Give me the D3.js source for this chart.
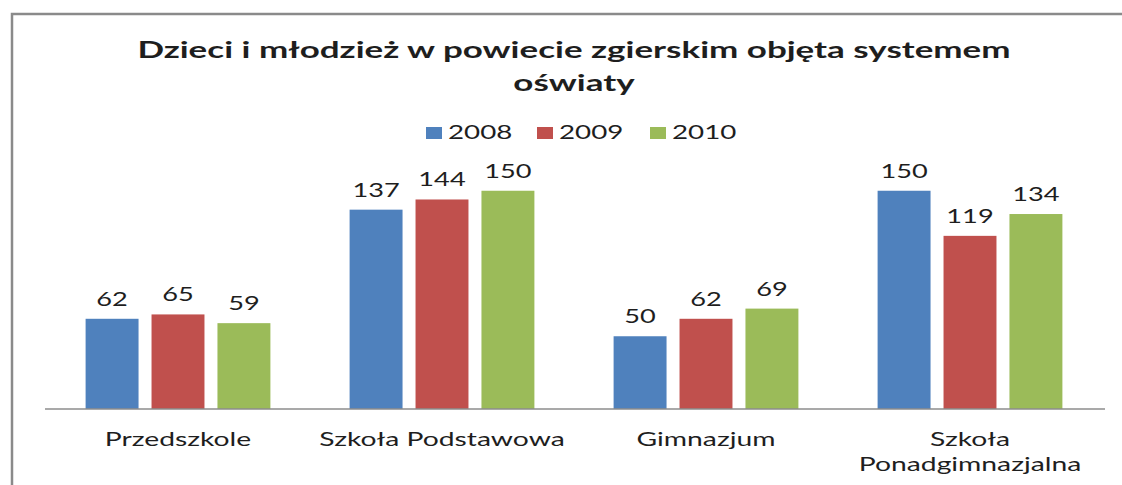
<!DOCTYPE html>
<meta charset="utf-8">
<script src="https://d3js.org/d3.v7.min.js"></script>
<style>
  body { margin: 0; background: #fff; }
  text { font-family: Lato, "Open Sans", sans-serif; fill: #1e1e1e; }
</style>
<div id="chart"></div>
<script>

// data
var categories = ["Przedszkole", "Szkoła Podstawowa", "Gimnazjum", "Szkoła\nPonadgimnazjalna"];
var years = ["2008", "2009", "2010"];
var values2008 = [62, 137, 50, 150];
var values2009 = [65, 144, 62, 119];
var values2010 = [59, 150, 69, 134];
var colors = ["#4F81BD", "#C0504D", "#9BBB59"];

var seriesValues = [values2008, values2009, values2010];

var width = 1122, height = 485;

var svg = d3.select("#chart")
  .append("svg")
    .attr("width", width)
    .attr("height", height);

// chart frame (only top and left edges are visible)
svg.append("path")
  .attr("d", "M12,485V14H1122")
  .attr("fill", "none")
  .attr("stroke", "#8a8a8a")
  .attr("stroke-width", 2.5);

// helper: horizontally stretched text (the picture is stretched sideways)
function label(x, y, str, size, sx, weight) {
  return svg.append("text")
    .attr("transform", "translate(" + x + "," + y + ") scale(" + sx + ",1)")
    .attr("text-anchor", "middle")
    .style("font-size", size + "px")
    .style("font-weight", weight || "normal")
    .text(str);
}

// title
label(574, 58, "Dzieci i młodzież w powiecie zgierskim objęta systemem", 22, 1.59, "bold");
label(574, 91, "oświaty", 22, 1.59, "bold");

// scales
var x0 = d3.scaleBand()
  .domain(categories)
  .range([46, 1102])
  .paddingInner(0.3)
  .paddingOuter(0.15);

var x1 = d3.scaleBand()
  .domain(years)
  .range([0, x0.bandwidth()])
  .paddingInner(0.197);

var y = d3.scaleLinear()
  .domain([0, 160])
  .range([409, 409 - 160 * 1.455]);

// bars
var rows = categories.map(function(c, i) {
  return years.map(function(yr, j) {
    return { cat: c, year: yr, value: seriesValues[j][i], color: colors[j] };
  });
});

var groups = svg.selectAll("g.group")
  .data(rows)
  .enter().append("g")
    .attr("class", "group")
    .attr("transform", function(d, i) { return "translate(" + x0(categories[i]) + ",0)"; });

groups.selectAll("rect")
  .data(function(d) { return d; })
  .enter().append("rect")
    .attr("x", function(d) { return x1(d.year); })
    .attr("y", function(d) { return y(d.value); })
    .attr("width", x1.bandwidth())
    .attr("height", function(d) { return y(0) - y(d.value); })
    .attr("fill", function(d) { return d.color; });

// value labels
rows.forEach(function(r) {
  r.forEach(function(d) {
    label(x0(d.cat) + x1(d.year) + x1.bandwidth() / 2, y(d.value) - 13, d.value, 18.5, 1.47);
  });
});

// baseline
svg.append("line")
  .attr("x1", 45).attr("x2", 1105)
  .attr("y1", y(0)).attr("y2", y(0))
  .attr("stroke", "#8c8c8c")
  .attr("stroke-width", 1.5);

// category labels
categories.forEach(function(c) {
  var lines = c.split("\n");
  var cx = x0(c) + x0.bandwidth() / 2;
  lines.forEach(function(t, k) {
    label(cx, 446 + k * 25, t, 19.5, 1.45);
  });
});

// legend
var legendX = [426, 537, 650];
years.forEach(function(yr, j) {
  svg.append("rect")
    .attr("x", legendX[j]).attr("y", 127)
    .attr("width", 16).attr("height", 12)
    .attr("fill", colors[j]);
  label(legendX[j] + 22, 139, yr, 18.5, 1.5).attr("text-anchor", "start");
});

</script>
